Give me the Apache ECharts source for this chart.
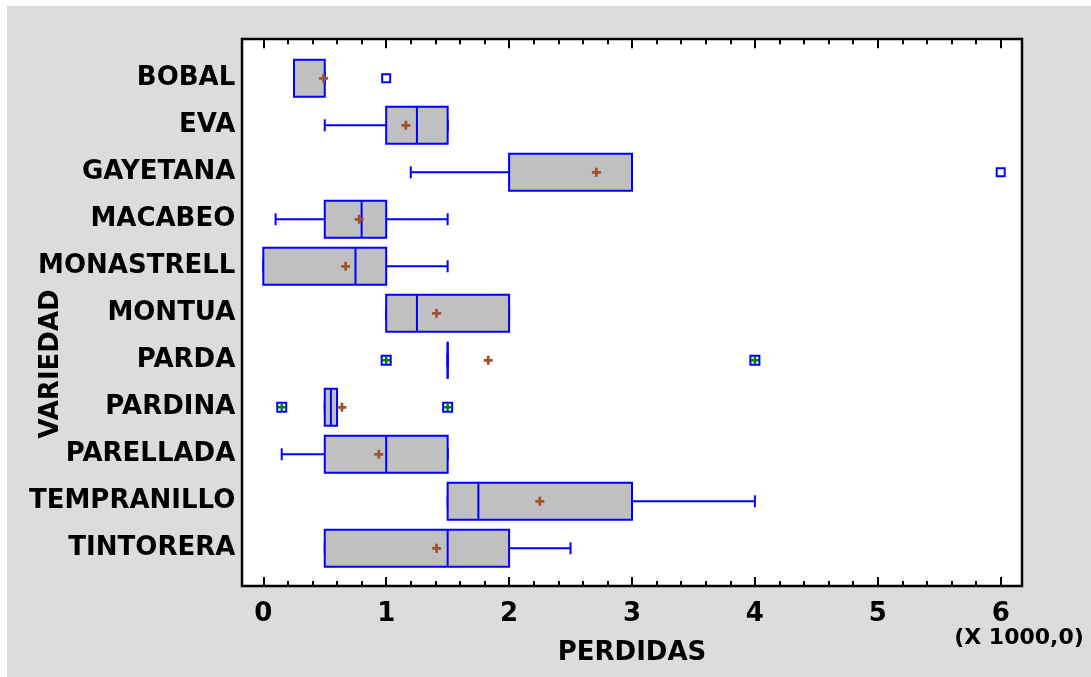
<!DOCTYPE html>
<html>
<head>
<meta charset="utf-8">
<title>PERDIDAS por VARIEDAD</title>
<script src="https://cdn.jsdelivr.net/npm/echarts@6/dist/echarts.min.js"></script>
<style>
  html, body { margin: 0; padding: 0; background: #fff; }
  #chart { width: 1091px; height: 677px; }
</style>
</head>
<body>
<div id="chart"></div>
<script>
// variedades (eje vertical, de arriba abajo)
const categories = ['BOBAL', 'EVA', 'GAYETANA', 'MACABEO', 'MONASTRELL', 'MONTUA',
  'PARDA', 'PARDINA', 'PARELLADA', 'TEMPRANILLO', 'TINTORERA']

// resumen de cada caja, en miles (X 1000,0)
const whiskerLow  = [0.25, 0.5, 1.2, 0.1, 0.0, 1.0, 1.5, 0.5, 0.15, 1.5, 0.5]
const q1          = [0.25, 1.0, 2.0, 0.5, 0.0, 1.0, 1.5, 0.5, 0.5, 1.5, 0.5]
const medians     = [0.25, 1.25, 3.0, 0.8, 0.75, 1.25, 1.5, 0.55, 1.0, 1.75, 1.5]
const q3          = [0.5, 1.5, 3.0, 1.0, 1.0, 2.0, 1.5, 0.6, 1.5, 3.0, 2.0]
const whiskerHigh = [0.5, 1.5, 3.0, 1.5, 1.5, 2.0, 1.5, 0.6, 1.5, 4.0, 2.5]
const means       = [0.49, 1.16, 2.71, 0.78, 0.67, 1.41, 1.83, 0.64, 0.94, 2.25, 1.41]

// puntos atipicos (cuadro) y muy atipicos (cuadro con cruz)
const outlierCats   = [0, 2]
const outlierValues = [1.0, 6.0]
const farCats       = [6, 6, 7, 7]
const farValues     = [1.0, 4.0, 0.15, 1.5]

const xTicks = [0, 1, 2, 3, 4, 5, 6]

const BLUE = '#0000ff'
const FONT = 'DejaVu Sans'
const PLUS = 'path://M3.5,0H6.5V3.5H10V6.5H6.5V10H3.5V6.5H0V3.5H3.5Z'

const chart = echarts.init(document.getElementById('chart'))

function renderBox(params, api) {
  const i = api.value(0)
  const p = (v) => api.coord([v, i])
  const band = api.size([0, 1])[1]
  const h = band * 0.79
  const cap = 12
  const y = p(0)[1]
  const xLo = p(api.value(1))[0]
  const x1 = p(api.value(2))[0]
  const xm = p(api.value(3))[0]
  const x3 = p(api.value(4))[0]
  const xHi = p(api.value(5))[0]
  const line = { stroke: BLUE, lineWidth: 2 }
  return {
    type: 'group',
    children: [
      { type: 'line', shape: { x1: xLo, y1: y, x2: x1, y2: y }, style: line },
      { type: 'line', shape: { x1: x3, y1: y, x2: xHi, y2: y }, style: line },
      { type: 'line', shape: { x1: xLo, y1: y - cap / 2, x2: xLo, y2: y + cap / 2 }, style: line },
      { type: 'line', shape: { x1: xHi, y1: y - cap / 2, x2: xHi, y2: y + cap / 2 }, style: line },
      { type: 'rect', shape: { x: x1, y: y - h / 2, width: x3 - x1, height: h },
        style: { fill: '#c0c0c0', stroke: BLUE, lineWidth: 2 } },
      { type: 'line', shape: { x1: xm, y1: y - h / 2, x2: xm, y2: y + h / 2 }, style: line }
    ]
  }
}

const boxData = categories.map((c, i) => [i, whiskerLow[i], q1[i], medians[i], q3[i], whiskerHigh[i]])

const xCommon = {
  type: 'value', gridIndex: 1, min: 0, max: 6, interval: 1,
  axisLine: { show: false },
  splitLine: { show: false },
  axisTick: { show: true, inside: true, length: 9, lineStyle: { color: '#000', width: 2 } },
  minorTick: { show: true, splitNumber: 5, length: 5, lineStyle: { color: '#000', width: 2 } }
}

chart.setOption({
  backgroundColor: '#fff',
  animation: false,
  graphic: [
    { type: 'rect', z: -10, shape: { x: 7, y: 6, width: 1084, height: 671 }, style: { fill: '#dcdcdc' } },
    { type: 'text', z: 10, x: 1019, y: 638,
      style: { text: '(X 1000,0)', font: 'bold 22px "' + FONT + '"', fill: '#000', align: 'center', verticalAlign: 'middle' } },
    { type: 'text', z: 10, x: 51, y: 364, rotation: Math.PI / 2,
      style: { text: 'VARIEDAD', font: 'bold 26px "' + FONT + '"', fill: '#000', align: 'center', verticalAlign: 'middle' } }
  ],
  grid: [
    // marco blanco del grafico
    { left: 242, right: 69, top: 39, bottom: 91, show: true, backgroundColor: '#fff', borderColor: '#000', borderWidth: 2.5 },
    // zona de datos
    { left: 263.3, right: 90.3, top: 54.8, bottom: 105.2 }
  ],
  xAxis: [
    { type: 'value', gridIndex: 0, show: false },
    Object.assign({}, xCommon, {
      position: 'bottom', offset: 14.2,
      axisLabel: { margin: 15, color: '#000', fontFamily: FONT, fontWeight: 'bold', fontSize: 26,
        customValues: xTicks },
      name: 'PERDIDAS', nameLocation: 'middle', nameGap: 54,
      nameTextStyle: { color: '#000', fontFamily: FONT, fontWeight: 'bold', fontSize: 26 }
    }),
    Object.assign({}, xCommon, { position: 'top', offset: 15.5, axisLabel: { show: false } })
  ],
  yAxis: [
    { type: 'value', gridIndex: 0, show: false },
    {
      type: 'category', gridIndex: 1, inverse: true, data: categories,
      axisLine: { show: false }, axisTick: { show: false }, splitLine: { show: false },
      axisLabel: { margin: 28, color: '#000', fontFamily: FONT, fontWeight: 'bold', fontSize: 26 }
    }
  ],
  series: [
    {
      type: 'custom', xAxisIndex: 1, yAxisIndex: 1,
      renderItem: renderBox, data: boxData,
      encode: { x: [1, 2, 3, 4, 5], y: 0 }
    },
    {
      type: 'scatter', xAxisIndex: 1, yAxisIndex: 1, symbol: 'rect', symbolSize: 8,
      itemStyle: { color: '#fff', borderColor: BLUE, borderWidth: 2, opacity: 1 },
      data: outlierValues.map((v, k) => [v, outlierCats[k]])
    },
    {
      type: 'scatter', xAxisIndex: 1, yAxisIndex: 1, symbol: 'rect', symbolSize: 9,
      itemStyle: { color: '#fff', borderColor: BLUE, borderWidth: 2, opacity: 1 },
      data: farValues.map((v, k) => [v, farCats[k]])
    },
    {
      type: 'scatter', xAxisIndex: 1, yAxisIndex: 1, symbol: PLUS, symbolSize: 8, z: 3,
      itemStyle: { color: '#008000', opacity: 1 },
      data: farValues.map((v, k) => [v, farCats[k]])
    },
    {
      type: 'scatter', xAxisIndex: 1, yAxisIndex: 1, symbol: PLUS, symbolSize: 9, z: 4,
      itemStyle: { color: '#a0522d', opacity: 1 },
      data: means.map((v, i) => [v, i])
    }
  ]
})
</script>
</body>
</html>
